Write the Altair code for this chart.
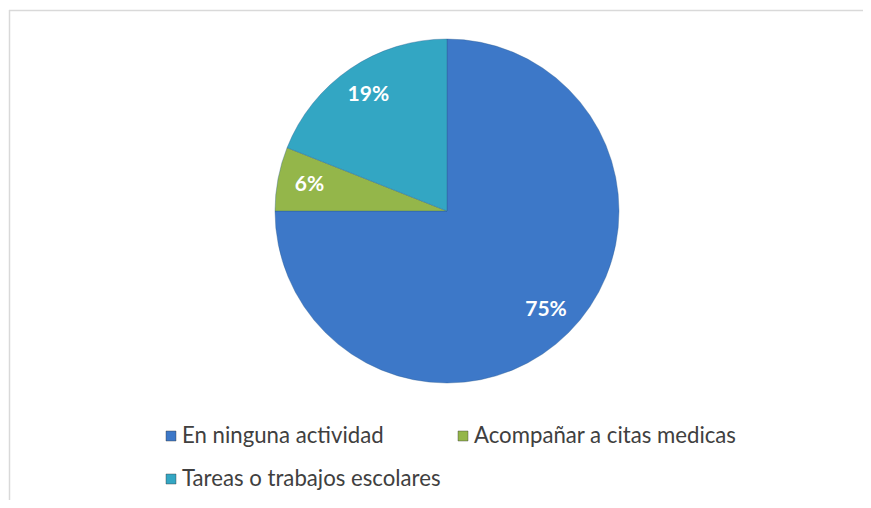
import altair as alt
import pandas as pd

categories = ["En ninguna actividad", "Acompañar a citas medicas", "Tareas o trabajos escolares"]
values = [75, 6, 19]
labels = ["75%", "6%", "19%"]
colors = ["#3D78C8", "#94B64A", "#33A6C3"]

W, H = 855, 492
cx, cy, R = 438, 203, 172

df = pd.DataFrame({"cat": categories, "val": values, "lab": labels, "idx": list(range(len(values)))})

color = alt.Color("cat:N", scale=alt.Scale(domain=categories, range=colors), legend=None)

pie = alt.Chart(df).mark_arc(radius=R, stroke="#2A5A8C", strokeWidth=0.6, strokeOpacity=0.6).encode(
    theta=alt.Theta("val:Q", stack=True),
    order=alt.Order("idx:Q"),
    color=color,
    x=alt.value(cx), y=alt.value(cy),
)

text = alt.Chart(df).mark_text(radius=140, font="Lato", fontSize=21, fontWeight="bold", color="white").encode(
    theta=alt.Theta("val:Q", stack=True),
    order=alt.Order("idx:Q"),
    text="lab:N",
    x=alt.value(cx), y=alt.value(cy),
)

# manual legend positions (layout, computed in code)
leg_x = [162, 454, 162]
leg_y = [428, 428, 471]
ldf = pd.DataFrame({"cat": categories, "lx": leg_x, "ly": leg_y})
ldf["tx"] = ldf["lx"] + 11

lsq = alt.Chart(ldf).mark_square(size=100, opacity=1, stroke="#333333", strokeWidth=0.4).encode(
    x=alt.X("lx:Q", scale=None), y=alt.Y("ly:Q", scale=None), color=color,
)
ltx = alt.Chart(ldf).mark_text(align="left", baseline="middle", font="Lato", fontSize=22.2, color="#404040").encode(
    x=alt.X("tx:Q", scale=None), y=alt.Y("ly:Q", scale=None), text="cat:N",
)

border = alt.Chart(pd.DataFrame({"a": [0]})).mark_rule(color="#D9D9D9", strokeWidth=1.5).encode(
    x=alt.value(0.5), y=alt.value(2), y2=alt.value(H)
) + alt.Chart(pd.DataFrame({"a": [0]})).mark_rule(color="#D9D9D9", strokeWidth=1.5).encode(
    x=alt.value(0), x2=alt.value(W), y=alt.value(2.5)
)

chart = alt.layer(border, pie, text, lsq, ltx).properties(
    width=W, height=H,
    autosize=alt.AutoSizeParams(type="fit", contains="padding"),
    padding=0,
).configure_view(stroke=None)

chart.save("out.html", embed_options={"renderer": "svg", "actions": False})
